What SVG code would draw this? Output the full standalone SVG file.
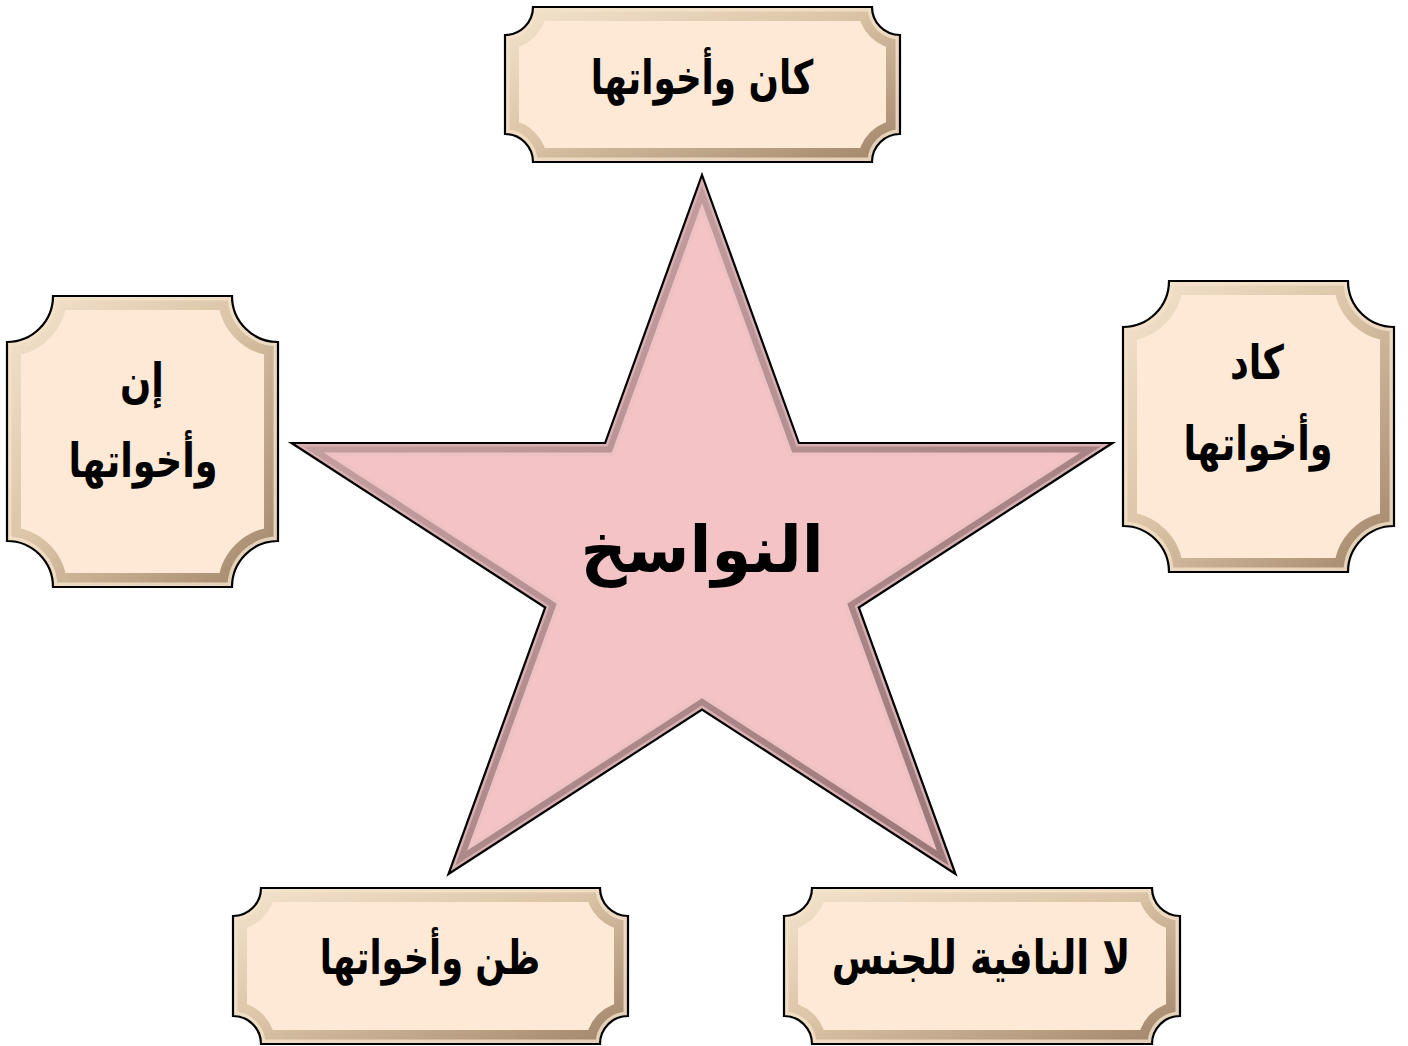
<svg xmlns="http://www.w3.org/2000/svg" width="1408" height="1046" viewBox="0 0 1408 1046">
  <style>
    .lbl { font-family: "DejaVu Sans", "Noto Sans", sans-serif; font-weight: bold; fill: #000; text-anchor: middle; direction: rtl; }
    .box-fill { fill: #FDE9D5; }
    .box-bevel { fill: none; stroke: url(#boxBevel); stroke-width: 28; stroke-linejoin: miter; }
    .box-hi { fill: none; stroke: #F4E2CA; stroke-width: 9; opacity: 0.8; }
    .box-edge { fill: none; stroke: #000; stroke-width: 2.2; }
    .star-a { fill: none; stroke: #EEC2C4; stroke-width: 26; stroke-linejoin: miter; stroke-miterlimit: 20; }
    .star-b { fill: none; stroke: url(#starBevel); stroke-width: 19; stroke-linejoin: miter; stroke-miterlimit: 20; }
    .star-c { fill: none; stroke: #D9B0B2; stroke-width: 7; stroke-linejoin: miter; stroke-miterlimit: 20; }
  </style>
  <defs>
    <linearGradient id="boxBevel" x1="0" y1="0" x2="1" y2="1">
      <stop offset="0" stop-color="#F4E4CE"/>
      <stop offset="0.45" stop-color="#DCC5A8"/>
      <stop offset="1" stop-color="#A08368"/>
    </linearGradient>
    <linearGradient id="starBevel" x1="0" y1="0" x2="1" y2="1">
      <stop offset="0" stop-color="#CFA8AA"/>
      <stop offset="0.5" stop-color="#B48F91"/>
      <stop offset="1" stop-color="#947072"/>
    </linearGradient>
    <path id="starShape" d="M702,175 L798.9,443 L1112.5,443 L858.8,607.5 L955.5,874 L702,709.5 L448.5,874 L545.2,607.5 L291.5,443 L605.1,443 Z"/>
    <path id="pTop" d="M533,7 H872 A28,28 0 0 0 900,35 V134 A28,28 0 0 0 872,162 H533 A28,28 0 0 0 505,134 V35 A28,28 0 0 0 533,7 Z"/>
    <path id="pLeft" d="M53,296 H232 A46,46 0 0 0 278,342 V541 A46,46 0 0 0 232,587 H53 A46,46 0 0 0 7,541 V342 A46,46 0 0 0 53,296 Z"/>
    <path id="pRight" d="M1169,281 H1348 A46,46 0 0 0 1394,327 V526 A46,46 0 0 0 1348,572 H1169 A46,46 0 0 0 1123,526 V327 A46,46 0 0 0 1169,281 Z"/>
    <path id="pBL" d="M261,888 H600 A28,28 0 0 0 628,916 V1016 A28,28 0 0 0 600,1044 H261 A28,28 0 0 0 233,1016 V916 A28,28 0 0 0 261,888 Z"/>
    <path id="pBR" d="M812,888 H1152 A28,28 0 0 0 1180,916 V1016 A28,28 0 0 0 1152,1044 H812 A28,28 0 0 0 784,1016 V916 A28,28 0 0 0 812,888 Z"/>
    <clipPath id="cStar"><use href="#starShape"/></clipPath>
    <clipPath id="cTop"><use href="#pTop"/></clipPath>
    <clipPath id="cLeft"><use href="#pLeft"/></clipPath>
    <clipPath id="cRight"><use href="#pRight"/></clipPath>
    <clipPath id="cBL"><use href="#pBL"/></clipPath>
    <clipPath id="cBR"><use href="#pBR"/></clipPath>
  </defs>

  <rect width="1408" height="1046" fill="#FFFFFF"/>

  <g id="connectors"></g>

  <g id="node-star">
    <use href="#starShape" fill="#F3C3C5"/>
    <g clip-path="url(#cStar)">
      <use href="#starShape" class="star-a"/>
      <use href="#starShape" class="star-b"/>
      <use href="#starShape" class="star-c"/>
    </g>
    <use href="#starShape" fill="none" stroke="#000" stroke-width="2.2" stroke-linejoin="miter" stroke-miterlimit="20"/>
    <text class="lbl" x="702" y="572" font-size="64">النواسخ</text>
  </g>

  <g id="node-kana">
    <use href="#pTop" class="box-fill"/>
    <g clip-path="url(#cTop)">
      <use href="#pTop" class="box-bevel"/>
      <use href="#pTop" class="box-hi"/>
    </g>
    <use href="#pTop" class="box-edge"/>
    <text class="lbl" transform="translate(702,94) scale(0.76,1)" x="0" y="0" font-size="47">كان وأخواتها</text>
  </g>

  <g id="node-inna">
    <use href="#pLeft" class="box-fill"/>
    <g clip-path="url(#cLeft)">
      <use href="#pLeft" class="box-bevel"/>
      <use href="#pLeft" class="box-hi"/>
    </g>
    <use href="#pLeft" class="box-edge"/>
    <text class="lbl" transform="translate(142,397) scale(0.78,1)" x="0" y="0" font-size="47">إن</text>
    <text class="lbl" transform="translate(143,477) scale(0.78,1)" x="0" y="0" font-size="47">وأخواتها</text>
  </g>

  <g id="node-kada">
    <use href="#pRight" class="box-fill"/>
    <g clip-path="url(#cRight)">
      <use href="#pRight" class="box-bevel"/>
      <use href="#pRight" class="box-hi"/>
    </g>
    <use href="#pRight" class="box-edge"/>
    <text class="lbl" transform="translate(1257,379) scale(0.78,1)" x="0" y="0" font-size="47">كاد</text>
    <text class="lbl" transform="translate(1258,460) scale(0.78,1)" x="0" y="0" font-size="47">وأخواتها</text>
  </g>

  <g id="node-zanna">
    <use href="#pBL" class="box-fill"/>
    <g clip-path="url(#cBL)">
      <use href="#pBL" class="box-bevel"/>
      <use href="#pBL" class="box-hi"/>
    </g>
    <use href="#pBL" class="box-edge"/>
    <text class="lbl" transform="translate(430,974) scale(0.75,1)" x="0" y="0" font-size="47">ظن وأخواتها</text>
  </g>

  <g id="node-la">
    <use href="#pBR" class="box-fill"/>
    <g clip-path="url(#cBR)">
      <use href="#pBR" class="box-bevel"/>
      <use href="#pBR" class="box-hi"/>
    </g>
    <use href="#pBR" class="box-edge"/>
    <text class="lbl" transform="translate(981,974) scale(0.8,1)" x="0" y="0" font-size="47">لا النافية للجنس</text>
  </g>
</svg>
